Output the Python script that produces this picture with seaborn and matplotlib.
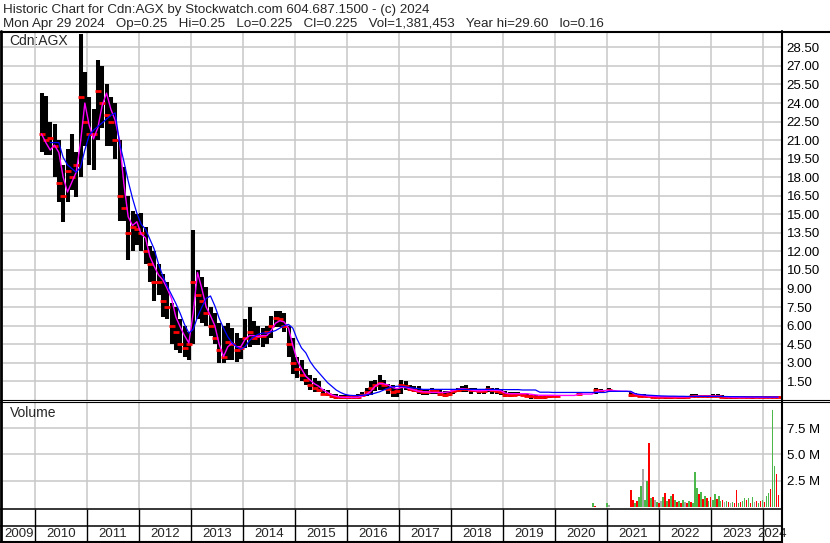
import numpy as np
import pandas as pd
import matplotlib
matplotlib.use('Agg')
import matplotlib.pyplot as plt
from matplotlib.lines import Line2D
import seaborn as sns

nan = np.nan

# Monthly price bars, Feb 2010 .. Apr 2024
months = pd.date_range('2010-02-01', '2024-04-01', freq='MS')

high = [
    24.8, 24.6, 22.5, 22.3, 21.0, 19.0, 20.3, 21.5, 20.0, 29.6, 26.5,
    24.5, 23.5, 27.5, 27.0, 25.5, 24.5, 24.0, 21.0, 18.8, 16.5, 15.3, 15.0,
    15.1, 14.0, 12.4, 12.0, 11.0, 10.2, 9.5, 7.8, 7.5, 6.5, 6.0, 5.5,
    13.7, 10.5, 9.9, 9.1, 7.5, 7.0, 6.2, 6.0, 6.2, 5.8, 5.4, 5.0,
    6.5, 7.5, 6.4, 6.0, 5.8, 6.0, 6.8, 7.2, 7.2, 7.0, 6.0, 5.0,
    3.5, 3.2, 2.5, 2.0, 1.8, 1.5, 0.9, 0.8, 0.5, 0.45, 0.4, 0.4,
    0.4, 0.4, 0.45, 0.6, 1.0, 1.5, 1.6, 2.0, 1.6, 1.3, 1.2, 1.0,
    1.6, 1.5, 1.2, 1.1, 1.1, 0.9, 0.8, 1.0, 0.9, 0.8, 0.7, 0.7,
    0.9, 1.0, 1.1, 1.2, 1.0, 1.0, 0.9, 0.9, 1.1, 1.0, 1.0, 0.8,
    0.7, 0.6, 0.6, 0.6, 0.55, 0.5, 0.4, 0.4, 0.35, 0.35, 0.4, 0.4,
    0.4, nan, nan, nan, nan, 0.58, nan, nan, nan, 0.95, 0.9, nan,
    0.95, nan, nan, nan, nan, 0.6, 0.55, 0.5, 0.45, 0.4, 0.4, 0.35,
    0.35, 0.35, 0.3, 0.35, 0.3, 0.3, 0.35, 0.45, 0.45, 0.4, 0.4, 0.4,
    0.45, 0.45, 0.4, 0.35, 0.3, 0.3, 0.3, 0.3, 0.3, 0.3, 0.3, 0.3,
    0.3, 0.3, 0.35, 0.3,
]
low = [
    20.0, 19.8, 19.8, 18.0, 16.0, 14.4, 16.0, 17.0, 16.4, 18.0, 20.5,
    19.0, 18.6, 21.0, 22.0, 20.5, 20.5, 19.5, 14.5, 14.5, 11.3, 12.0, 12.5,
    12.0, 11.0, 9.5, 8.0, 8.5, 6.7, 6.5, 4.5, 4.0, 3.8, 3.5, 3.2,
    4.5, 6.5, 6.2, 6.0, 5.2, 4.5, 3.0, 3.0, 3.2, 3.2, 3.1, 3.3,
    4.2, 4.3, 4.4, 4.4, 4.3, 4.5, 5.0, 5.9, 5.9, 5.5, 3.5, 2.1,
    1.8, 1.5, 1.2, 0.8, 0.6, 0.6, 0.4, 0.35, 0.15, 0.1, 0.1, 0.1,
    0.1, 0.1, 0.1, 0.2, 0.3, 0.4, 0.7, 0.8, 0.8, 0.5, 0.2, 0.2,
    0.5, 0.8, 0.7, 0.6, 0.5, 0.4, 0.4, 0.5, 0.5, 0.3, 0.2, 0.3,
    0.5, 0.6, 0.6, 0.6, 0.5, 0.6, 0.5, 0.5, 0.6, 0.5, 0.5, 0.4,
    0.2, 0.2, 0.3, 0.3, 0.3, 0.2, 0.1, 0.1, 0.1, 0.1, 0.15, 0.2,
    0.2, nan, nan, nan, nan, 0.36, nan, nan, nan, 0.5, 0.6, nan,
    0.65, nan, nan, nan, nan, 0.25, 0.3, 0.25, 0.2, 0.2, 0.15, 0.15,
    0.15, 0.1, 0.1, 0.15, 0.1, 0.1, 0.15, 0.2, 0.2, 0.2, 0.2, 0.2,
    0.2, 0.2, 0.15, 0.1, 0.1, 0.1, 0.12, 0.12, 0.12, 0.1, 0.12, 0.12,
    0.15, 0.15, 0.15, 0.16,
]
close = [
    21.5, 21.0, 21.2, 20.5, 17.5, 16.5, 18.5, 18.0, 19.0, 24.5, 22.5,
    21.5, 21.5, 25.0, 24.0, 23.0, 22.5, 21.0, 16.5, 15.5, 13.5, 14.0, 13.8,
    13.5, 12.0, 11.0, 9.5, 9.5, 8.0, 7.5, 6.0, 5.5, 4.5, 4.2, 4.5,
    9.5, 8.5, 8.0, 7.0, 6.0, 5.0, 4.0, 3.5, 4.7, 4.5, 4.0, 4.2,
    5.0, 5.5, 5.0, 5.2, 5.2, 5.5, 6.0, 6.6, 6.5, 6.0, 4.5, 3.0,
    2.5, 2.0, 1.6, 1.2, 1.0, 0.8, 0.5, 0.45, 0.3, 0.25, 0.2, 0.2,
    0.2, 0.2, 0.25, 0.4, 0.6, 1.0, 1.2, 1.4, 1.2, 0.9, 0.6, 0.7,
    1.2, 1.1, 0.9, 0.8, 0.7, 0.6, 0.6, 0.8, 0.7, 0.5, 0.4, 0.5,
    0.7, 0.8, 0.9, 0.9, 0.8, 0.8, 0.7, 0.7, 0.9, 0.8, 0.7, 0.6,
    0.4, 0.4, 0.4, 0.5, 0.4, 0.35, 0.3, 0.25, 0.2, 0.25, 0.3, 0.3,
    0.3, nan, nan, nan, nan, 0.45, nan, nan, nan, 0.8, 0.75, nan,
    0.8, nan, nan, nan, nan, 0.4, 0.4, 0.35, 0.3, 0.3, 0.25, 0.25,
    0.25, 0.2, 0.2, 0.25, 0.2, 0.2, 0.2, 0.3, 0.35, 0.3, 0.3, 0.3,
    0.3, 0.3, 0.25, 0.2, 0.2, 0.2, 0.2, 0.2, 0.2, 0.2, 0.2, 0.2,
    0.2, 0.22, 0.25, 0.225,
]
# short moving average (magenta) and long moving average (blue), read monthly
ma_short = [
    21.5, 20.8, 20.2, 20.6, 20.0, 18.0, 16.8, 17.6, 18.4, 20.8, 24.0,
    22.2, 21.1, 22.0, 23.8, 24.8, 23.5, 22.6, 21.0, 17.5, 14.8, 14.1, 14.4,
    13.4, 13.1, 11.6, 10.8, 10.1, 9.7, 9.0, 8.2, 6.7, 5.9, 5.2, 4.6,
    7.0, 10.3, 9.0, 7.5, 6.8, 6.0, 4.5, 3.5, 4.3, 4.6, 4.3, 4.3,
    4.9, 5.2, 5.2, 5.1, 5.2, 5.2, 5.6, 6.2, 6.4, 6.3, 5.8, 4.4,
    3.2, 2.5, 1.9, 1.6, 1.3, 1.1, 0.8, 0.6, 0.4, 0.3, 0.22, 0.2,
    0.2, 0.2, 0.2, 0.3, 0.45, 0.7, 1.1, 1.33, 1.3, 1.2, 1.0, 0.9,
    1.0, 1.0, 0.9, 0.8, 0.7, 0.65, 0.65, 0.6, 0.6, 0.6, 0.6, 0.65,
    0.75, 0.85, 0.9, 0.85, 0.8, 0.75, 0.73, 0.75, 0.78, 0.78, 0.77, 0.75,
    0.55, 0.5, 0.5, 0.5, 0.5, 0.5, 0.45, 0.4, 0.37, 0.37, 0.37, 0.37,
    0.36, 0.36, 0.36, 0.36, 0.36, 0.45, 0.47, 0.47, 0.47, 0.65, 0.75, 0.75,
    0.78, 0.75, 0.72, 0.7, 0.7, 0.65, 0.45, 0.4, 0.35, 0.3, 0.28, 0.26,
    0.25, 0.25, 0.24, 0.24, 0.23, 0.23, 0.24, 0.26, 0.3, 0.3, 0.3, 0.3,
    0.3, 0.3, 0.28, 0.24, 0.22, 0.2, 0.2, 0.2, 0.2, 0.2, 0.2, 0.2,
    0.2, 0.2, 0.21, 0.21,
]
ma_long = [
    nan, nan, 20.8, 20.8, 20.8, 19.6, 19.0, 18.7, 18.4, 18.8, 20.2,
    21.4, 21.8, 22.1, 22.4, 22.7, 23.0, 23.2, 20.8, 19.3, 17.7, 16.3, 15.1,
    14.2, 13.8, 13.0, 12.2, 11.0, 10.0, 9.2, 8.5, 7.8, 7.0, 6.1, 5.4,
    5.7, 6.7, 7.5, 8.2, 8.4, 7.6, 6.6, 5.8, 5.1, 4.6, 4.3, 4.1,
    4.3, 4.8, 5.1, 5.3, 5.4, 5.4, 5.5, 5.6, 5.8, 6.0, 6.1, 5.8,
    4.9, 4.2, 3.8, 3.1, 2.6, 2.2, 1.8, 1.4, 1.1, 0.8, 0.6, 0.45,
    0.37, 0.35, 0.35, 0.37, 0.4, 0.45, 0.55, 0.65, 0.8, 0.95, 1.05, 1.1,
    1.1, 1.05, 1.0, 0.95, 0.9, 0.85, 0.85, 0.85, 0.85, 0.85, 0.85, 0.85,
    0.85, 0.85, 0.85, 0.85, 0.85, 0.85, 0.85, 0.85, 0.85, 0.85, 0.85, 0.83,
    0.83, 0.83, 0.83, 0.83, 0.8, 0.8, 0.8, 0.8, 0.62, 0.62, 0.62, 0.6,
    0.6, 0.6, 0.6, 0.6, 0.6, 0.6, 0.6, 0.6, 0.6, 0.6, 0.6, 0.6,
    0.69, 0.69, 0.69, 0.69, 0.69, 0.69, 0.5, 0.44, 0.4, 0.38, 0.36, 0.34,
    0.32, 0.31, 0.3, 0.3, 0.29, 0.29, 0.28, 0.28, 0.28, 0.28, 0.28, 0.28,
    0.28, 0.28, 0.27, 0.27, 0.26, 0.26, 0.25, 0.25, 0.24, 0.24, 0.24, 0.24,
    0.23, 0.23, 0.23, 0.23,
]

# Volume (millions), two-week bars from late Sep 2020
vol_dates = pd.date_range('2020-09-24', periods=94, freq='14D')
volume = [
    0.3, 0.1, 0, 0, 0, 0, 0, 0.3, 0.2, 0, 0, 0, 0, 0, 0, 0, 0, 0, 0,
    1.6, 0.6, 0.3, 0.5, 0.9, 2.0, 3.6, 0.6, 2.5, 6.1, 0.8, 0.9, 0.6, 0.4, 0.3,
    0.5, 0.9, 1.3, 0.5, 0.7, 1.0, 1.2, 0.6, 0.4, 0.5, 0.3, 0.6, 0.4, 0.3, 0.5,
    0.4, 0.3, 3.3, 1.8, 1.2, 1.4, 0.7, 1.0, 0.8, 0.5, 0.9, 0.6, 1.2, 0.7, 1.0,
    0.5, 0.6, 0.4, 0.5, 0.4, 0.3, 0.4, 0.3, 1.6, 0.3, 0.4, 0.5, 0.8, 0.6, 0.8,
    0.3, 0.9, 0.4, 0.5, 0.3, 0.5, 0.6, 0.4, 1.0, 1.3, 1.7, 9.3, 3.9, 3.1, 1.1,
]
# G = up, R = down, N = unchanged
vol_dir = list('GRNNNNNGNNNNNNNNNNN'
               'RRGRG' 'GNGGR' 'GRNGR' 'NGRGR' 'GRGRG' 'RGNRG' 'RGGGR' 'GRGRG'
               'RGGRG' 'GRNGR' 'NGRRG' 'RGGRG' 'RGNRG' 'RGRGG' 'RGGRR')

price_ticks = [1.5, 3.0, 4.5, 6.0, 7.5, 9.0, 10.5, 12.0, 13.5, 15.0, 16.5,
               18.0, 19.5, 21.0, 22.5, 24.0, 25.5, 27.0, 28.5]
vol_ticks = [2.5, 5.0, 7.5]
vol_labels = ['2.5 M', '5.0 M', '7.5 M']
years = list(range(2010, 2025))

title1 = 'Historic Chart for Cdn:AGX by Stockwatch.com 604.687.1500 - (c) 2024'
title2 = ('Mon Apr 29 2024   Op=0.25   Hi=0.25   Lo=0.225   Cl=0.225   '
          'Vol=1,381,453   Year hi=29.60   lo=0.16')

# dates -> decimal years
px = pd.DataFrame({'t': months.year + (months.month - 0.5) / 12,
                   'high': high, 'low': low, 'close': close,
                   'ma_short': ma_short, 'ma_long': ma_long})
vx = pd.DataFrame({'t': vol_dates.year + (vol_dates.dayofyear - 0.5) / 365.25,
                   'vol': volume, 'dir': vol_dir})

sns.set_style('white')
plt.rcParams['font.family'] = ['Liberation Sans', 'DejaVu Sans']

W, H = 830, 543
fig = plt.figure(figsize=(W / 100, H / 100), dpi=100)


def box(x0, y0, x1, y1):
    return [x0 / W, 1 - y1 / H, (x1 - x0) / W, (y1 - y0) / H]


x_left = 2010 - 32.5 / 52
x_right = 2010 + 746 / 52
grid_c = '#c8c8c8'

# price panel
ax = fig.add_axes(box(2.5, 32, 781, 400))
ax.set_xlim(x_left, x_right)
ax.set_ylim(-0.01, 29.74)
for s in ax.spines.values():
    s.set_visible(False)
ax.set_yticks(price_ticks)
ax.set_yticklabels([f'{v:.2f}' for v in price_ticks])
ax.set_xticks(years)
ax.grid(True, color=grid_c, lw=1.1)
ax.set_axisbelow(True)
ax.yaxis.tick_right()
ax.tick_params(axis='y', length=0, pad=4, labelsize=9.5, labelcolor='black')
ax.tick_params(axis='x', length=0, labelbottom=False)

ax.vlines(px['t'], px['low'], px['high'], color='black', lw=2.9)
ax.plot(px['t'], px['close'], ls='none', marker='_', ms=4.5, mew=2.0, color='red')
sns.lineplot(data=px, x='t', y='ma_short', ax=ax, color='#ff00ff', lw=1.0)
sns.lineplot(data=px, x='t', y='ma_long', ax=ax, color='#0000ff', lw=0.9)
ax.set_xlabel('')
ax.set_ylabel('')
ax.text(7 / 778.5, 0.975, 'Cdn:AGX', transform=ax.transAxes, fontsize=10,
        va='center', ha='left')

# volume panel
axv = fig.add_axes(box(2.5, 402, 781, 509))
axv.set_xlim(x_left, x_right)
axv.set_ylim(-0.23, 10.02)
for s in axv.spines.values():
    s.set_visible(False)
axv.set_yticks(vol_ticks)
axv.set_yticklabels(vol_labels)
axv.set_xticks(years)
axv.grid(True, color=grid_c, lw=1.1)
axv.set_axisbelow(True)
axv.yaxis.tick_right()
axv.tick_params(axis='y', length=0, pad=4, labelsize=9.5, labelcolor='black')
axv.tick_params(axis='x', length=0, labelbottom=False)
colors = {'G': '#4cb84c', 'R': '#ff0000', 'N': '#a8a8a8'}
axv.bar(vx['t'], vx['vol'], width=0.034, color=[colors[d] for d in vx['dir']],
        linewidth=0)
axv.text(7 / 778.5, 0.9, 'Volume', transform=axv.transAxes, fontsize=10,
         va='center', ha='left')

# date rows
axd = fig.add_axes(box(2.5, 509, 781, 542))
axd.set_xlim(x_left, x_right)
axd.set_ylim(0, 1)
axd.axis('off')
axd.vlines(years, 0, 1, color='black', lw=1)
label_pos = [(x_left + 2010) / 2] + [y + 0.5 for y in years[:-1]] + [(2024 + x_right) / 2]
for yr, xp in zip([2009] + years, label_pos):
    axd.text(xp, 0.24, str(yr), ha='center', va='center', fontsize=9.5)

# frame lines
def hline(y, x0, x1, lw):
    fig.add_artist(Line2D([x0 / W, x1 / W], [1 - y / H, 1 - y / H],
                          transform=fig.transFigure, color='black', lw=lw))


def vline(x, y0, y1, lw):
    fig.add_artist(Line2D([x / W, x / W], [1 - y0 / H, 1 - y1 / H],
                          transform=fig.transFigure, color='black', lw=lw))


hline(31.5, 0, W, 1.5)
hline(399.8, 0, W, 0.8)
hline(402.2, 0, W, 0.8)
hline(509, 0, 782, 1.1)
hline(526, 0, 782, 1.1)
hline(541.8, 0, 782, 1.5)
vline(1.3, 31, H, 2.0)
vline(781.7, 31, H, 1.5)

fig.text(3 / W, 1 - 9.5 / H, title1, fontsize=9.6, va='center', ha='left')
fig.text(3 / W, 1 - 23.5 / H, title2, fontsize=9.6, va='center', ha='left')

fig.savefig('out.png', dpi=100, facecolor='white')
